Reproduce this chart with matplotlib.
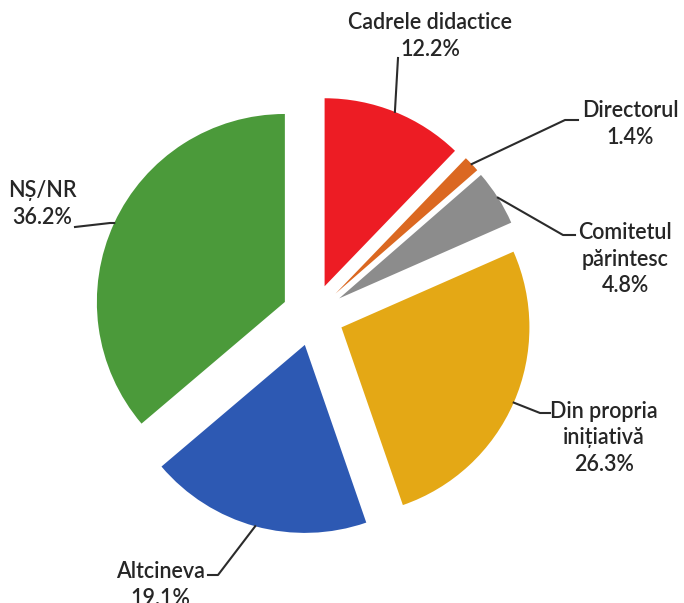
import matplotlib
matplotlib.use('Agg')
import matplotlib.pyplot as plt
import numpy as np

# date
labels = ['Cadrele didactice', 'Directorul', 'Comitetul\npărintesc',
          'Din propria\ninițiativă', 'Altcineva', 'NȘ/NR']
values = [12.2, 1.4, 4.8, 26.3, 19.1, 36.2]
colors = ['#ED1C24', '#DB6821', '#8C8C8C', '#E4A815', '#2D59B3', '#4B9A3A']

# pozitii etichete (pixeli, y in jos): text, cot, capat linie
label_pos = [(430, 36), (630, 124), (625, 259), (604, 438), (160, 585), (42, 204)]
elbows = [None, (565, 120), (563, 235), (540, 413), (218, 575), (110, 223)]
ends = [(398, 58), (578, 120), (575, 235), (550, 413), (208, 575), (75, 227)]

W, H = 684, 603
plt.rcParams['font.family'] = ['Lato', 'DejaVu Sans']

fig = plt.figure(figsize=(W / 100, H / 100), dpi=100)
ax = fig.add_axes([0, 0, 1, 1])

wedges, _ = ax.pie(values, colors=colors, startangle=90, counterclock=False,
                   explode=[31] * len(values), radius=188, center=(313, H - 315),
                   wedgeprops=dict(linewidth=0))
ax.set_xlim(0, W)
ax.set_ylim(0, H)
ax.set_aspect('equal')
ax.axis('off')

def py(y):
    return H - y

for i, w in enumerate(wedges):
    ang = np.deg2rad((w.theta1 + w.theta2) / 2)
    sx = w.center[0] + w.r * np.cos(ang)
    sy = w.center[1] + w.r * np.sin(ang)
    xs = [sx]
    ys = [sy]
    if elbows[i] is not None:
        xs.append(elbows[i][0])
        ys.append(py(elbows[i][1]))
    xs.append(ends[i][0])
    ys.append(py(ends[i][1]))
    ax.plot(xs, ys, color='#2b2b2b', linewidth=1.5)
    txt = labels[i] + '\n' + ('%.1f%%' % values[i])
    ax.text(label_pos[i][0], py(label_pos[i][1]), txt, ha='center', va='center',
            fontsize=15.5, fontweight='semibold', color='#262626', linespacing=1.35)

fig.savefig('out.png', dpi=100, facecolor='white')
